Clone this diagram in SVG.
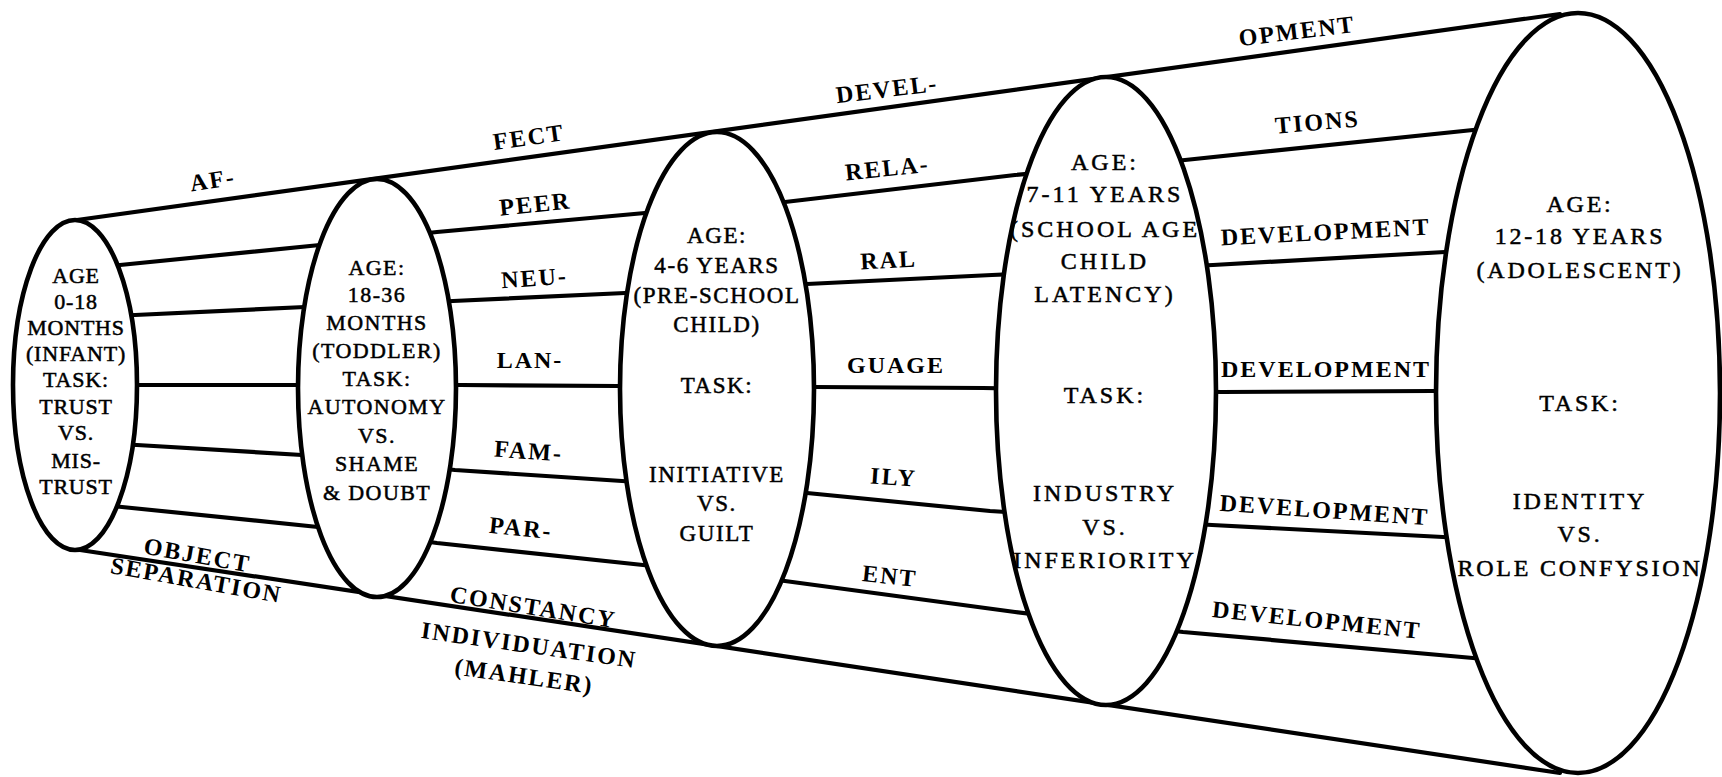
<svg xmlns="http://www.w3.org/2000/svg" width="1722" height="777" viewBox="0 0 1722 777">
<style>
.ln{fill:none;stroke:#000;stroke-width:4.2;stroke-linejoin:round;stroke-linecap:round}
.el{fill:#fff;stroke:#000;stroke-width:4.6}
text{font-family:"Liberation Serif","DejaVu Serif",serif;fill:#000;text-anchor:middle}
.e1,.e2,.e3,.e4,.e5{stroke:#000;stroke-width:0.5}
.e1{font-size:22px;letter-spacing:0.8px}
.e2{font-size:22px;letter-spacing:1.4px}
.e3{font-size:23px;letter-spacing:1.6px}
.e4{font-size:24px;letter-spacing:3px}
.e5{font-size:24px;letter-spacing:2.8px}
.lb{font-size:24px;font-weight:bold;letter-spacing:2px}
</style>
<rect width="1722" height="777" fill="#fff"/>
<g id="connectors">
<line class="ln" x1="77" y1="220" x2="1560" y2="14"/>
<line class="ln" x1="80" y1="550" x2="1560" y2="773"/>
<polyline class="ln" points="75,270 120,265 320,245 437,232 645,213 785,202 1015,175 1185,160 1473,130 1578,120"/>
<polyline class="ln" points="75,317 135,315 305,307 453,301 625,293 807,284 992,275 1213,265 1445,252 1578,246"/>
<polyline class="ln" points="75,385 138,385 298,385 460,385 618,386 815,387 983,388 1222,392 1433,391 1578,391"/>
<polyline class="ln" points="75,443 137,445 302,455 455,470 622,481 807,493 990,511 1212,525 1443,537 1578,545"/>
<polyline class="ln" points="75,502 122,507 318,527 437,543 643,565 785,581 1015,612 1183,632 1473,658 1578,668"/>
</g>
<g id="labels">
<text class="lb" transform="translate(214,188) rotate(-9)">AF-</text>
<text class="lb" transform="translate(530,145) rotate(-8)">FECT</text>
<text class="lb" transform="translate(888,97) rotate(-7)">DEVEL-</text>
<text class="lb" transform="translate(1298,39) rotate(-7)">OPMENT</text>
<text class="lb" transform="translate(536,212) rotate(-6)">PEER</text>
<text class="lb" transform="translate(888,176) rotate(-6)">RELA-</text>
<text class="lb" transform="translate(1318,130) rotate(-5)">TIONS</text>
<text class="lb" transform="translate(535,286) rotate(-4)">NEU-</text>
<text class="lb" transform="translate(889,268) rotate(-3)">RAL</text>
<text class="lb" transform="translate(1326,240) rotate(-3)">DEVELOPMENT</text>
<text class="lb" transform="translate(530,368)">LAN-</text>
<text class="lb" transform="translate(896,373)">GUAGE</text>
<text class="lb" transform="translate(1326,377)">DEVELOPMENT</text>
<text class="lb" transform="translate(528,459) rotate(4)">FAM-</text>
<text class="lb" transform="translate(893,485) rotate(4)">ILY</text>
<text class="lb" transform="translate(1324,518) rotate(4)">DEVELOPMENT</text>
<text class="lb" transform="translate(520,536) rotate(6)">PAR-</text>
<text class="lb" transform="translate(889,584) rotate(6)">ENT</text>
<text class="lb" transform="translate(1316,628) rotate(6)">DEVELOPMENT</text>
<text class="lb" transform="translate(196,563) rotate(10)">OBJECT</text>
<text class="lb" transform="translate(195,588) rotate(10)">SEPARATION</text>
<text class="lb" transform="translate(532,615) rotate(9)">CONSTANCY</text>
<text class="lb" transform="translate(528,653) rotate(8)">INDIVIDUATION</text>
<text class="lb" transform="translate(523,684) rotate(8)">(MAHLER)</text>
</g>
<g id="stage1">
<ellipse class="el" cx="75" cy="385" rx="62" ry="165"/>
<text class="e1" x="76" y="283">AGE</text>
<text class="e1" x="76" y="309">0-18</text>
<text class="e1" x="76" y="335">MONTHS</text>
<text class="e1" x="76" y="361">(INFANT)</text>
<text class="e1" x="76" y="387">TASK:</text>
<text class="e1" x="76" y="414">TRUST</text>
<text class="e1" x="76" y="440">VS.</text>
<text class="e1" x="76" y="468">MIS-</text>
<text class="e1" x="76" y="494">TRUST</text>
</g>
<g id="stage2">
<ellipse class="el" cx="377" cy="388" rx="79" ry="209"/>
<text class="e2" x="377" y="275">AGE:</text>
<text class="e2" x="377" y="302">18-36</text>
<text class="e2" x="377" y="330">MONTHS</text>
<text class="e2" x="377" y="358">(TODDLER)</text>
<text class="e2" x="377" y="386">TASK:</text>
<text class="e2" x="377" y="414">AUTONOMY</text>
<text class="e2" x="377" y="443">VS.</text>
<text class="e2" x="377" y="471">SHAME</text>
<text class="e2" x="377" y="500">&amp; DOUBT</text>
</g>
<g id="stage3">
<ellipse class="el" cx="717" cy="389" rx="97" ry="257"/>
<text class="e3" x="717" y="243">AGE:</text>
<text class="e3" x="717" y="273">4-6 YEARS</text>
<text class="e3" x="717" y="303">(PRE-SCHOOL</text>
<text class="e3" x="717" y="332">CHILD)</text>
<text class="e3" x="717" y="393">TASK:</text>
<text class="e3" x="717" y="482">INITIATIVE</text>
<text class="e3" x="717" y="511">VS.</text>
<text class="e3" x="717" y="541">GUILT</text>
</g>
<g id="stage4">
<ellipse class="el" cx="1106" cy="391" rx="110" ry="314"/>
<text class="e4" x="1105" y="170">AGE:</text>
<text class="e4" x="1105" y="202">7-11 YEARS</text>
<text class="e4" x="1105" y="237">(SCHOOL AGE</text>
<text class="e4" x="1105" y="269">CHILD</text>
<text class="e4" x="1105" y="302">LATENCY)</text>
<text class="e4" x="1105" y="403">TASK:</text>
<text class="e4" x="1105" y="501">INDUSTRY</text>
<text class="e4" x="1105" y="535">VS.</text>
<text class="e4" x="1105" y="568">INFERIORITY</text>
</g>
<g id="stage5">
<ellipse class="el" cx="1578" cy="393" rx="142" ry="380"/>
<text class="e5" x="1580" y="212">AGE:</text>
<text class="e5" x="1580" y="244">12-18 YEARS</text>
<text class="e5" x="1580" y="278">(ADOLESCENT)</text>
<text class="e5" x="1580" y="411">TASK:</text>
<text class="e5" x="1580" y="509">IDENTITY</text>
<text class="e5" x="1580" y="542">VS.</text>
<text class="e5" x="1580" y="576">ROLE CONFYSION</text>
</g>
</svg>
